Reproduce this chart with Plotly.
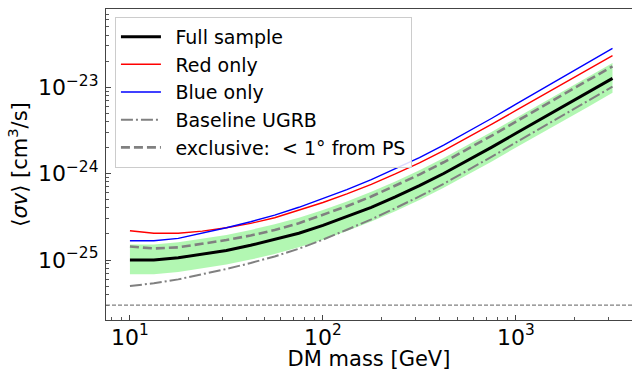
import plotly.graph_objects as go

# DM mass [GeV]
mass = [10, 13.3, 17.8, 23.7, 31.6, 42.2, 56.2, 75.0, 100, 133, 178, 237, 316,
        422, 562, 750, 1000, 1334, 1778, 2371, 3162]

full_sample = [1.00e-25, 1.00e-25, 1.06e-25, 1.16e-25, 1.29e-25, 1.48e-25, 1.72e-25,
               2.04e-25, 2.51e-25, 3.16e-25, 4.07e-25, 5.37e-25, 7.24e-25, 1.00e-24,
               1.41e-24, 2.02e-24, 2.92e-24, 4.19e-24, 6.03e-24, 8.65e-24, 1.26e-23]

band_upper = [1.51e-25, 1.51e-25, 1.60e-25, 1.75e-25, 1.95e-25, 2.23e-25, 2.59e-25,
              3.08e-25, 3.78e-25, 4.76e-25, 6.14e-25, 8.09e-25, 1.09e-24, 1.51e-24,
              2.13e-24, 3.04e-24, 4.40e-24, 6.31e-24, 9.08e-24, 1.30e-23, 1.90e-23]

band_lower = [6.84e-26, 6.84e-26, 7.24e-26, 7.94e-26, 8.85e-26, 1.01e-25, 1.17e-25,
              1.40e-25, 1.72e-25, 2.16e-25, 2.79e-25, 3.67e-25, 4.95e-25, 6.84e-25,
              9.66e-25, 1.38e-24, 2.00e-24, 2.86e-24, 4.12e-24, 5.92e-24, 8.61e-24]

red_only = [2.18e-25, 2.04e-25, 2.04e-25, 2.16e-25, 2.36e-25, 2.65e-25, 3.08e-25,
            3.80e-25, 4.62e-25, 5.82e-25, 7.50e-25, 9.89e-25, 1.33e-24, 1.84e-24,
            2.60e-24, 3.72e-24, 5.37e-24, 7.73e-24, 1.11e-23, 1.60e-23, 2.31e-23]

blue_only = [1.67e-25, 1.67e-25, 1.78e-25, 2.03e-25, 2.36e-25, 2.77e-25, 3.31e-25,
             4.07e-25, 5.13e-25, 6.53e-25, 8.51e-25, 1.13e-24, 1.53e-24, 2.13e-24,
             3.03e-24, 4.36e-24, 6.34e-24, 9.16e-24, 1.33e-23, 1.92e-23, 2.81e-23]

baseline_ugrb = [5.01e-26, 5.37e-26, 5.97e-26, 6.82e-26, 7.87e-26, 9.23e-26, 1.10e-25,
                 1.35e-25, 1.72e-25, 2.24e-25, 2.95e-25, 3.98e-25, 5.43e-25, 7.59e-25,
                 1.08e-24, 1.57e-24, 2.29e-24, 3.33e-24, 4.79e-24, 6.92e-24, 1.01e-23]

exclusive_ps = [1.43e-25, 1.36e-25, 1.40e-25, 1.53e-25, 1.70e-25, 1.92e-25, 2.22e-25,
                2.66e-25, 3.31e-25, 4.19e-25, 5.42e-25, 7.18e-25, 9.73e-25, 1.35e-24,
                1.91e-24, 2.75e-24, 3.99e-24, 5.75e-24, 8.32e-24, 1.20e-23, 1.74e-23]

relic_xsec = 3e-26

x_tickvals = [10, 100, 1000]
x_ticktext = ["10<sup>1</sup>", "10<sup>2</sup>", "10<sup>3</sup>"]
y_tickvals = [1e-25, 1e-24, 1e-23]
y_ticktext = ["10<sup>\u221225</sup>", "10<sup>\u221224</sup>", "10<sup>\u221223</sup>"]

FONT = "DejaVu Sans"
PAD = "\u2002"

fig = go.Figure()

# 1-sigma band
fig.add_trace(go.Scatter(x=mass, y=band_upper, mode="lines", line=dict(width=0),
                         showlegend=False, hoverinfo="skip"))
fig.add_trace(go.Scatter(x=mass, y=band_lower, mode="lines", line=dict(width=0),
                         fill="tonexty", fillcolor="rgba(0,230,0,0.3)",
                         showlegend=False, hoverinfo="skip"))

fig.add_hline(y=relic_xsec, line=dict(color="gray", width=1.2, dash="4px,2px"))

fig.add_trace(go.Scatter(x=mass, y=full_sample, mode="lines", name=PAD + "Full sample",
                         line=dict(color="black", width=3), legendgroup="a"))
fig.add_trace(go.Scatter(x=mass, y=red_only, mode="lines", name=PAD + "Red only",
                         line=dict(color="red", width=1.4), legendgroup="b"))
fig.add_trace(go.Scatter(x=mass, y=blue_only, mode="lines", name=PAD + "Blue only",
                         line=dict(color="blue", width=1.4), legendgroup="c"))
fig.add_trace(go.Scatter(x=mass, y=baseline_ugrb, mode="lines",
                         name=PAD + "Baseline UGRB",
                         line=dict(color="gray", width=2, dash="12px,3px,2px,3px"),
                         legendgroup="d"))
fig.add_trace(go.Scatter(x=mass, y=exclusive_ps, mode="lines",
                         name=PAD + "exclusive:  < 1\u00b0 from PS",
                         line=dict(color="gray", width=2.6, dash="9px,4px"),
                         legendgroup="e"))

axis_common = dict(
    type="log",
    automargin=False,
    showgrid=False,
    zeroline=False,
    showline=True,
    linecolor="#444",
    linewidth=1.3,
    ticks="inside",
    ticklen=5,
    tickwidth=1,
    tickcolor="#444",
    tickfont=dict(family=FONT, size=22, color="black"),
    minor=dict(ticks="inside", ticklen=3, tickwidth=0.8, tickcolor="#555",
               dtick="D1", showgrid=False),
)

fig.update_layout(
    width=632,
    height=371,
    margin=dict(l=106, r=0, t=9, b=51),
    paper_bgcolor="white",
    plot_bgcolor="white",
    font=dict(family=FONT, color="black"),
    xaxis=dict(**axis_common, range=[0.876, 3.601], tickmode="array",
               tickvals=x_tickvals, ticktext=x_ticktext, mirror=True,
               ticklabelstandoff=-3,
               title=dict(text="DM mass [GeV]", font=dict(family=FONT, size=21),
                          standoff=9)),
    yaxis=dict(**axis_common, range=[-25.694, -22.097], tickmode="array",
               tickvals=y_tickvals, ticktext=y_ticktext, ticklabelstandoff=2,
               title=dict(text="\u27e8<i>\u03c3v</i>\u27e9 [cm<sup>3</sup>/s]",
                          font=dict(family=FONT, size=21), standoff=4)),
    legend=dict(x=0.017, y=0.975, xanchor="left", yanchor="top",
                bgcolor="rgba(255,255,255,0.85)", bordercolor="#cccccc",
                borderwidth=1, font=dict(family=FONT, size=19),
                itemwidth=40,
                traceorder="grouped", tracegroupgap=0),
    showlegend=True,
)

fig.write_html("out.html",
               config={"displayModeBar": False},
               post_script="document.body.style.margin='0';document.body.style.overflow='hidden';")
